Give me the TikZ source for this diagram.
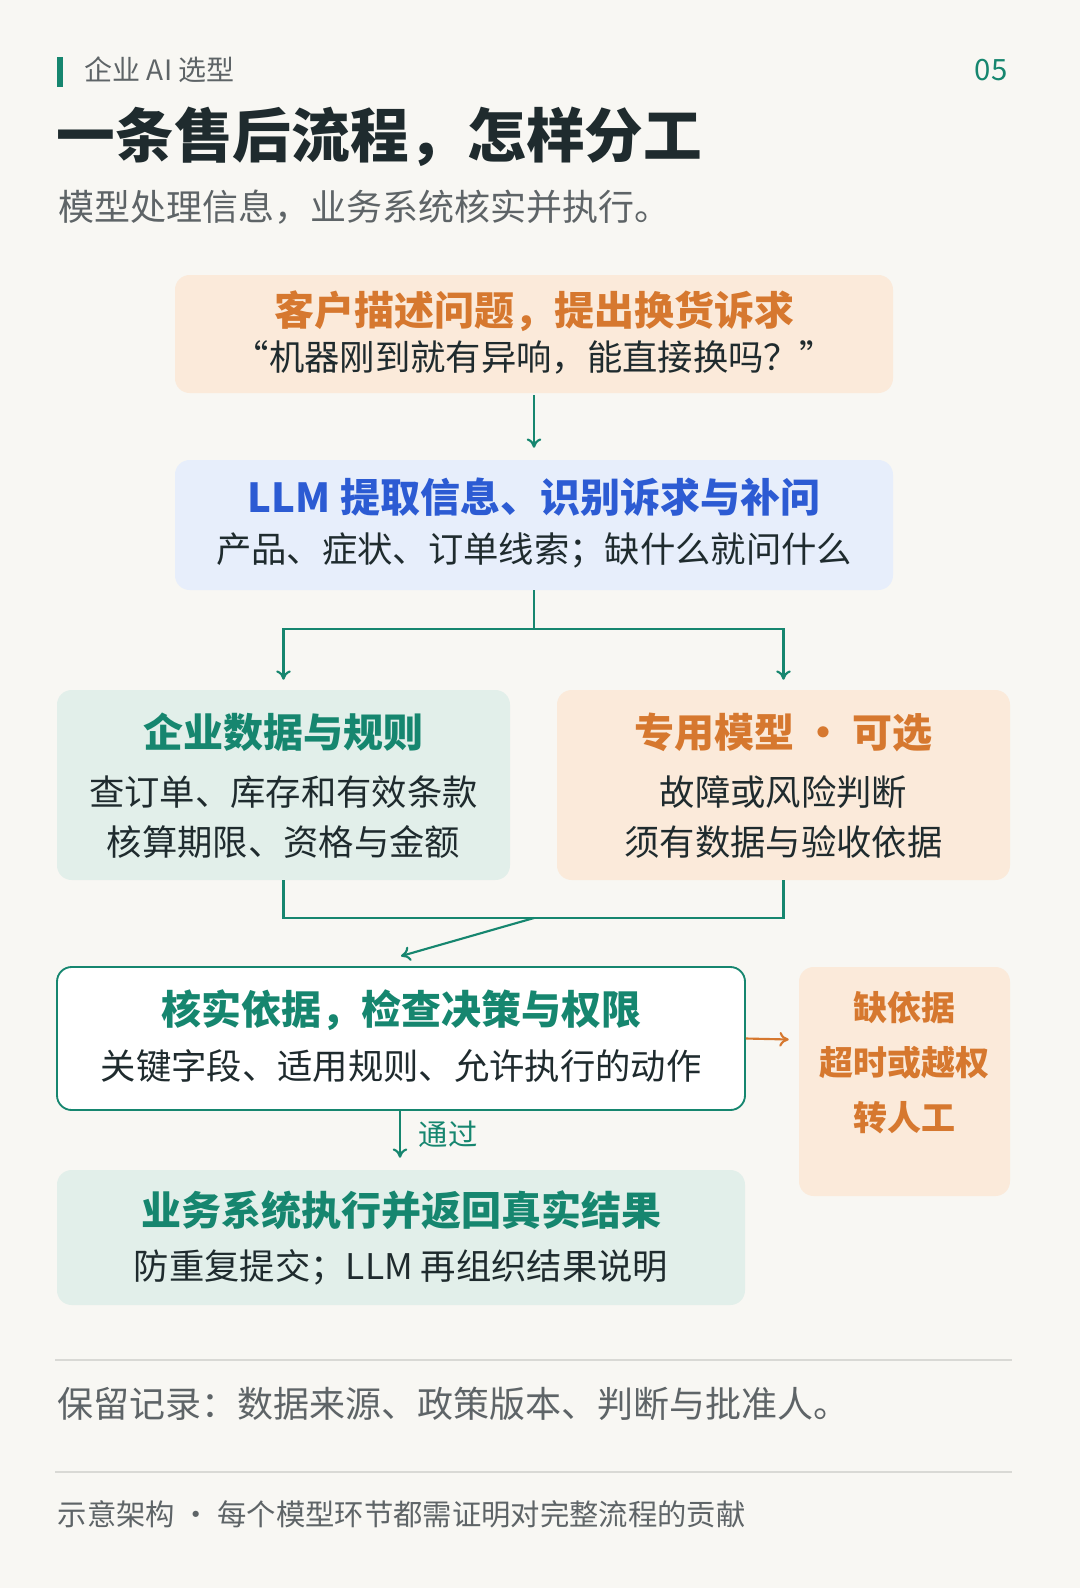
\documentclass[tikz,border=0pt]{standalone}
\usepackage{fontspec}
\setmainfont{Noto Sans CJK SC}
\usepackage{tikz}
\usetikzlibrary{arrows.meta,calc}
\definecolor{bgc}{HTML}{F8F7F3}
\definecolor{teal}{HTML}{16866F}
\definecolor{ink}{HTML}{1F2B2E}
\definecolor{gray}{HTML}{5E6467}
\definecolor{orng}{HTML}{D6782F}
\definecolor{orngbg}{HTML}{FBEADA}
\definecolor{blu}{HTML}{2C5BD3}
\definecolor{blubg}{HTML}{E7EEFB}
\definecolor{tealbg}{HTML}{E2EFEA}
\definecolor{rule}{HTML}{D9D9D5}

\begin{document}
\begin{tikzpicture}[x=0.75pt,y=-0.75pt,>={To[length=7pt,width=11pt]}]
\tikzstyle{box} = [rounded corners=11pt, inner sep=0pt]
\tikzstyle{head} = [font=\bfseries\fontsize{30}{36}\selectfont]
\tikzstyle{body} = [font=\fontsize{26.5}{32}\selectfont, text=ink]
\tikzstyle{link} = [teal, line width=1.6pt]
\useasboundingbox[fill=bgc] (0,0) rectangle (1080,1588);
% header
\fill[teal] (57,57) rectangle (63,87);
\node[anchor=west, gray, font=\fontsize{21}{25}\selectfont] (tag) at (80,70) {企业 AI 选型};
\node[anchor=east, teal, font=\fontsize{22}{26}\selectfont] (pg) at (1012,70) {05};
\node[anchor=west, ink, font=\bfseries\fontsize{44}{52}\selectfont] (title) at (52,137) {一条售后流程，怎样分工};
\node[anchor=west, gray, font=\fontsize{27}{32}\selectfont] (sub) at (54,207) {模型处理信息，业务系统核实并执行。};
% boxes
\node[box, fill=orngbg, minimum width=718*0.75pt, minimum height=118*0.75pt] (ask) at (534,334) {};
\node[head, orng] at (534,311) {客户描述问题，提出换货诉求};
\node[body] at (534,357) {“机器刚到就有异响，能直接换吗？”};
\node[box, fill=blubg, minimum width=718*0.75pt, minimum height=130*0.75pt] (llm) at (534,525) {};
\node[head, blu] at (534,497) {LLM 提取信息、识别诉求与补问};
\node[body] at (534,550) {产品、症状、订单线索；缺什么就问什么};
\node[box, fill=tealbg, minimum width=453*0.75pt, minimum height=190*0.75pt] (data) at (283.5,785) {};
\node[head, teal] at (283.5,732) {企业数据与规则};
\node[body] at (283.5,792) {查订单、库存和有效条款};
\node[body] at (283.5,842) {核算期限、资格与金额};
\node[box, fill=orngbg, minimum width=453*0.75pt, minimum height=190*0.75pt] (spec) at (783.5,785) {};
\node[head, orng] at (783.5,732) {专用模型 · 可选};
\node[body] at (783.5,792) {故障或风险判断};
\node[body] at (783.5,842) {须有数据与验收依据};
\node[box, fill=white, draw=teal, line width=1.4pt, minimum width=688*0.75pt, minimum height=143*0.75pt] (check) at (401,1038.5) {};
\node[head, teal] at (401,1010) {核实依据，检查决策与权限};
\node[body] at (401,1066) {关键字段、适用规则、允许执行的动作};
\node[box, fill=orngbg, minimum width=211*0.75pt, minimum height=229*0.75pt] (human) at (904.5,1081.5) {};
\node[orng, font=\bfseries\fontsize{25.5}{30}\selectfont] at (904.5,1008) {缺依据};
\node[orng, font=\bfseries\fontsize{25.5}{30}\selectfont] at (904.5,1063) {超时或越权};
\node[orng, font=\bfseries\fontsize{25.5}{30}\selectfont] at (904.5,1118) {转人工};
\node[box, fill=tealbg, minimum width=688*0.75pt, minimum height=135*0.75pt] (exec) at (401,1237.5) {};
\node[head, teal] at (401,1210) {业务系统执行并返回真实结果};
\node[body] at (401,1267) {防重复提交；LLM 再组织结果说明};
% connectors
\coordinate (split) at (534,629);
\coordinate (join) at (534,918);
\draw[link,->] (ask.south) ++(0,2) -- ($(llm.north)+(0,-12)$);
\draw[link] (llm.south) -- (split);
\draw[link,->] (split) -| ($(data.north)+(0,-10)$);
\draw[link,->] (split) -| ($(spec.north)+(0,-10)$);
\draw[link] (data.south) |- (join) -| (spec.south);
\draw[link,->] (join) -- ($(check.north)+(0,-10)$);
\draw[orng, line width=1.6pt, ->] (check.east) -- ($(human.west)+(-10,-42)$);
\draw[link,->] (check.south) ++(-1,0) -- ($(exec.north)+(-1,-12)$)
  node[midway, right=10pt, font=\fontsize{22}{26}\selectfont] {通过};
% footer
\draw[rule, line width=1pt] (55,1360) -- (1012,1360);
\node[anchor=west, gray, font=\fontsize{27}{32}\selectfont] (rec) at (53,1404) {保留记录：数据来源、政策版本、判断与批准人。};
\draw[rule, line width=1pt] (55,1472) -- (1012,1472);
\node[anchor=west, gray, font=\fontsize{22}{26}\selectfont] (foot) at (53,1514) {示意架构 · 每个模型环节都需证明对完整流程的贡献};
\end{tikzpicture}
\end{document}
